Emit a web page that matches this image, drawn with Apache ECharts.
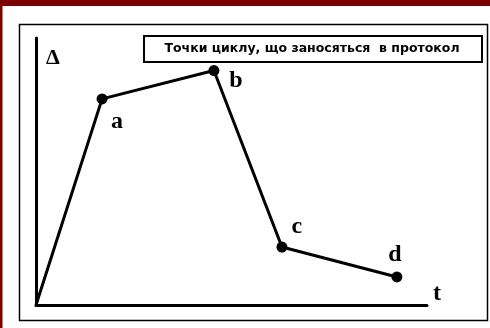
<!DOCTYPE html>
<html>
<head>
<meta charset="utf-8">
<script src="https://cdn.jsdelivr.net/npm/echarts@6/dist/echarts.min.js"></script>
<style>
html,body{margin:0;padding:0;background:#fff;}
#c{width:490px;height:328px;}
</style>
</head>
<body>
<div id="c"></div>
<script>
// Data (abstract units of time t and deformation Δ)
var pointNames = ['', 'a', 'b', 'c', 'd'];
var tValues = [0, 1.69, 4.55, 6.29, 9.23];
var deltaValues = [0, 7.72, 8.78, 2.17, 1.05];
var yAxisName = 'Δ';
var xAxisName = 't';
var legendText = 'Точки циклу, що заносяться  в протокол';

// Label offsets (styling only)
var labelOffsets = [[0, 0], [15, 23], [22, 10], [15, -20], [-2, -22]];

var data = tValues.map(function (t, i) {
  return {
    value: [t, deltaValues[i]],
    name: pointNames[i],
    symbolSize: i === 0 ? 0 : 11,
    label: {
      show: pointNames[i] !== '',
      position: 'inside',
      offset: labelOffsets[i]
    }
  };
});

var chart = echarts.init(document.getElementById('c'), null, { renderer: 'canvas' });
chart.setOption({
  animation: false,
  backgroundColor: '#fff',
  grid: { left: 36, right: 63, top: 38, bottom: 23, containLabel: false },
  xAxis: {
    type: 'value', min: 0, max: 10,
    axisLine: { show: true, lineStyle: { color: '#000', width: 3 } },
    axisTick: { show: false }, axisLabel: { show: false }, splitLine: { show: false },
    name: xAxisName, nameLocation: 'end', nameGap: 6,
    nameTextStyle: { fontFamily: 'Liberation Serif', fontWeight: 'bold', fontSize: 24, color: '#000', align: 'left', verticalAlign: 'bottom', lineHeight: 22 }
  },
  yAxis: {
    type: 'value', min: 0, max: 10,
    axisLine: { show: true, lineStyle: { color: '#000', width: 3 } },
    axisTick: { show: false }, axisLabel: { show: false }, splitLine: { show: false },
    name: yAxisName, nameLocation: 'end', nameGap: -20,
    nameTextStyle: { fontFamily: 'Liberation Serif', fontWeight: 'bold', fontSize: 22, color: '#000', align: 'left', verticalAlign: 'middle', padding: [0, 0, 0, 10] }
  },
  series: [{
    type: 'line',
    data: data,
    symbol: 'circle',
    lineStyle: { color: '#000', width: 3 },
    itemStyle: { color: '#000' },
    label: {
      formatter: '{b}',
      fontFamily: 'Liberation Serif', fontWeight: 'bold', fontSize: 24, color: '#000'
    }
  }],
  graphic: [
    { type: 'rect', z: -10, silent: true, shape: { x: 0, y: 0, width: 490, height: 6 }, style: { fill: '#7d0000' } },
    { type: 'rect', z: -10, silent: true, shape: { x: 0, y: 0, width: 2.5, height: 328 }, style: { fill: '#7d0000' } },
    { type: 'rect', z: -5, silent: true, shape: { x: 19.5, y: 24.5, width: 468, height: 296 }, style: { fill: 'none', stroke: '#000', lineWidth: 1.5 } },
    {
      type: 'group', left: 143, top: 35, children: [
        { type: 'rect', shape: { x: 0, y: 0, width: 338, height: 26 }, style: { fill: '#fff', stroke: '#000', lineWidth: 2 } },
        { type: 'text', x: 168, y: 13, style: { text: legendText, fontFamily: 'DejaVu Sans', fontWeight: 'bold', fontSize: 12.5, fill: '#000', align: 'center', verticalAlign: 'middle' } }
      ]
    }
  ]
});
</script>
</body>
</html>
